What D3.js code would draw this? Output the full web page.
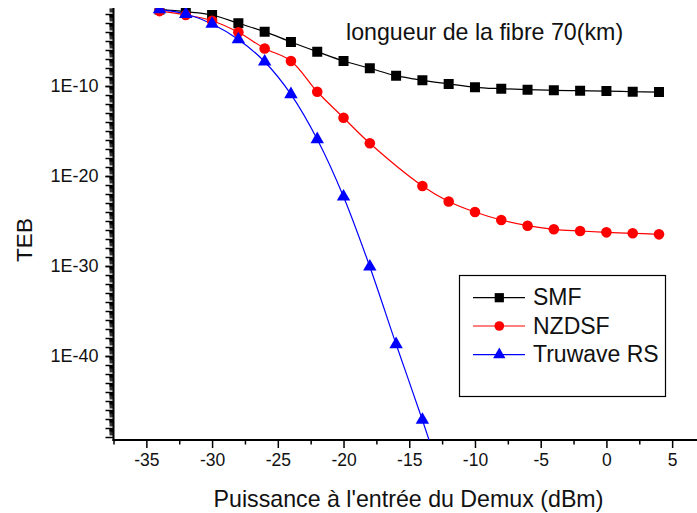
<!DOCTYPE html>
<html>
<head>
<meta charset="utf-8">
<script src="https://cdn.jsdelivr.net/npm/d3@7"></script>
<style>
  html, body { margin: 0; padding: 0; background: #fff; }
  svg { display: block; font-family: "Liberation Sans", Arial, Helvetica, sans-serif; }
</style>
</head>
<body>
<svg id="chart" width="697" height="513"></svg>
<script>
// ---- data ----
const smfPower = [-34,-32,-30,-28,-26,-24,-22,-20,-18,-16,-14,-12,-10,-8,-6,-4,-2,0,2,4];
const smfBER = [3.2e-2,1.8e-2,7.8e-3,9.3e-4,1.1e-4,7.8e-6,6.5e-7,6.0e-8,9.3e-9,1.4e-9,4.3e-10,1.7e-10,7.2e-11,5.0e-11,3.9e-11,3.3e-11,3.0e-11,2.75e-11,2.3e-11,2.1e-11];

const nzdsfPower = [-34,-32,-30,-28,-26,-24,-22,-20,-18,-14,-12,-10,-8,-6,-4,-2,0,2,4];
const nzdsfBER = [2.1e-2,7.8e-3,1.8e-3,9.3e-5,1.5e-6,6.0e-8,2.3e-11,3.0e-14,4.3e-17,7.8e-22,1.5e-23,1.0e-24,1.3e-25,3.0e-26,1.2e-26,7.8e-27,5.5e-27,4.3e-27,3.3e-27];

const truwavePower = [-34,-32,-30,-28,-26,-24,-22,-20,-18,-16,-14,-12];
const truwaveBER = [3.3e-2,1.0e-2,7.8e-4,1.5e-5,5.0e-8,1.2e-11,1.2e-16,5.0e-23,8.3e-31,2.0e-39,7.8e-48,1e-56];

const seriesNames = ["SMF", "NZDSF", "Truwave RS"];
const seriesColors = ["#000000", "#ff0000", "#0000ff"];
const seriesSymbols = ["square", "circle", "triangle"];

const xTickValues = [-35,-30,-25,-20,-15,-10,-5,0,5];
const yLabelExponents = [-10,-20,-30,-40];

const annotation = "longueur de la fibre 70(km)";
const xTitle = "Puissance à l'entrée du Demux (dBm)";
const yTitle = "TEB";

// ---- layout ----
const svg = d3.select("#chart");
const pLeft = 113.5, pRight = 705, pTop = 8, pBottom = 440;

const x = d3.scaleLinear().domain([-37.5, 7.5]).range([pLeft, pRight]);
const y = d3.scaleLog().domain([Math.pow(10, -49.333), Math.pow(10, -1.333)]).range([pBottom, pTop]);

svg.append("defs").append("clipPath").attr("id", "plotclip")
  .append("rect").attr("x", pLeft).attr("y", pTop).attr("width", pRight - pLeft).attr("height", pBottom - pTop);

// ---- axes ----
const xMinor = d3.range(-37.5, 7.6, 2.5).filter(v => !xTickValues.includes(v));
svg.append("g").attr("transform", `translate(0,${pBottom})`)
  .call(d3.axisBottom(x).tickValues(xMinor).tickSize(4.5).tickFormat(""))
  .call(g => g.select(".domain").remove())
  .call(g => g.selectAll("line").attr("stroke", "#000").attr("stroke-width", 1.5));
svg.append("g").attr("transform", `translate(0,${pBottom})`)
  .call(d3.axisBottom(x).tickValues(xTickValues).tickSize(8).tickPadding(6).tickFormat(d => String(d)))
  .call(g => g.select(".domain").remove())
  .call(g => g.selectAll("line").attr("stroke", "#000").attr("stroke-width", 1.5))
  .call(g => g.selectAll("text").attr("font-size", 17.5).attr("fill", "#111")
    .attr("font-family", "Liberation Sans, Arial, sans-serif"));

const decades = d3.range(-2, -50, -1);
const subTicks = [];
decades.forEach(e => { for (let k = 2; k <= 9; k++) { const v = k * Math.pow(10, e); if (v < y.domain()[1] && v > y.domain()[0]) subTicks.push(v); } });
svg.append("g").attr("transform", `translate(${pLeft},0)`)
  .call(d3.axisLeft(y).tickValues(subTicks).tickSize(4).tickFormat(""))
  .call(g => g.select(".domain").remove())
  .call(g => g.selectAll("line").attr("stroke", "#000").attr("stroke-width", 1.2));
svg.append("g").attr("transform", `translate(${pLeft},0)`)
  .call(d3.axisLeft(y).tickValues(decades.map(e => Math.pow(10, e))).tickSize(8).tickFormat(""))
  .call(g => g.select(".domain").remove())
  .call(g => g.selectAll("line").attr("stroke", "#000").attr("stroke-width", 1.5));
svg.append("g").attr("transform", `translate(${pLeft},0)`)
  .call(d3.axisLeft(y).tickValues(yLabelExponents.map(e => Math.pow(10, e))).tickSize(8).tickPadding(7)
    .tickFormat((d, i) => "1E" + yLabelExponents[i]))
  .call(g => g.select(".domain").remove())
  .call(g => g.selectAll("line").attr("stroke", "#000").attr("stroke-width", 1.5))
  .call(g => g.selectAll("text").attr("font-size", 18).attr("fill", "#111")
    .attr("font-family", "Liberation Sans, Arial, sans-serif"));

svg.append("line").attr("x1", pLeft).attr("x2", pLeft).attr("y1", pTop).attr("y2", pBottom + 1)
  .attr("stroke", "#000").attr("stroke-width", 2);
svg.append("line").attr("x1", pLeft - 1).attr("x2", 697).attr("y1", pBottom).attr("y2", pBottom)
  .attr("stroke", "#000").attr("stroke-width", 2);

// ---- series ----
const series = [
  { power: smfPower, ber: smfBER },
  { power: nzdsfPower, ber: nzdsfBER },
  { power: truwavePower, ber: truwaveBER }
];

function symbolPath(kind, scale) {
  const s = scale || 1;
  if (kind === "square") return d3.symbol(d3.symbolSquare, 100 * s * s)();
  if (kind === "circle") return d3.symbol(d3.symbolCircle, Math.PI * 28 * s * s)();
  return d3.symbol(d3.symbolTriangle, 78 * s * s)();
}

const plot = svg.append("g").attr("clip-path", "url(#plotclip)");
const line = d3.line().x(d => x(d[0])).y(d => y(d[1])).curve(d3.curveCatmullRom.alpha(0.5));

series.forEach((s, i) => {
  const pts = s.power.map((p, j) => [p, s.ber[j]]);
  plot.append("path").datum(pts).attr("d", line)
    .attr("fill", "none").attr("stroke", seriesColors[i]).attr("stroke-width", 1.2);
});
series.forEach((s, i) => {
  const pts = s.power.map((p, j) => [p, s.ber[j]]);
  plot.append("g").selectAll("path").data(pts).join("path")
    .attr("transform", d => `translate(${x(d[0])},${y(d[1])})`)
    .attr("d", symbolPath(seriesSymbols[i]))
    .attr("fill", seriesColors[i]);
});

// ---- annotation ----
svg.append("text").attr("x", 346).attr("y", 39.5).attr("font-size", 23.2).attr("fill", "#111").text(annotation);

// ---- axis titles ----
svg.append("text").attr("x", 408.5).attr("y", 507).attr("text-anchor", "middle")
  .attr("font-size", 23.2).attr("fill", "#111").text(xTitle);
svg.append("text").attr("transform", "translate(32,240) rotate(-90)").attr("text-anchor", "middle")
  .attr("font-size", 22.5).attr("fill", "#111").text(yTitle);

// ---- legend ----
const lg = svg.append("g");
lg.append("rect").attr("x", 459.5).attr("y", 275.5).attr("width", 206).attr("height", 121)
  .attr("fill", "#fff").attr("stroke", "#000").attr("stroke-width", 1.2);
const legendY = [297.7, 326, 354.7];
seriesNames.forEach((name, i) => {
  lg.append("line").attr("x1", 473).attr("x2", 525).attr("y1", legendY[i]).attr("y2", legendY[i])
    .attr("stroke", seriesColors[i]).attr("stroke-width", 1.2);
  lg.append("path").attr("transform", `translate(499.3,${legendY[i]})`)
    .attr("d", symbolPath(seriesSymbols[i], 0.92)).attr("fill", seriesColors[i]);
  lg.append("text").attr("x", 533).attr("y", legendY[i] + 7.5).attr("font-size", 23)
    .attr("fill", "#111").text(name);
});
</script>
</body>
</html>
